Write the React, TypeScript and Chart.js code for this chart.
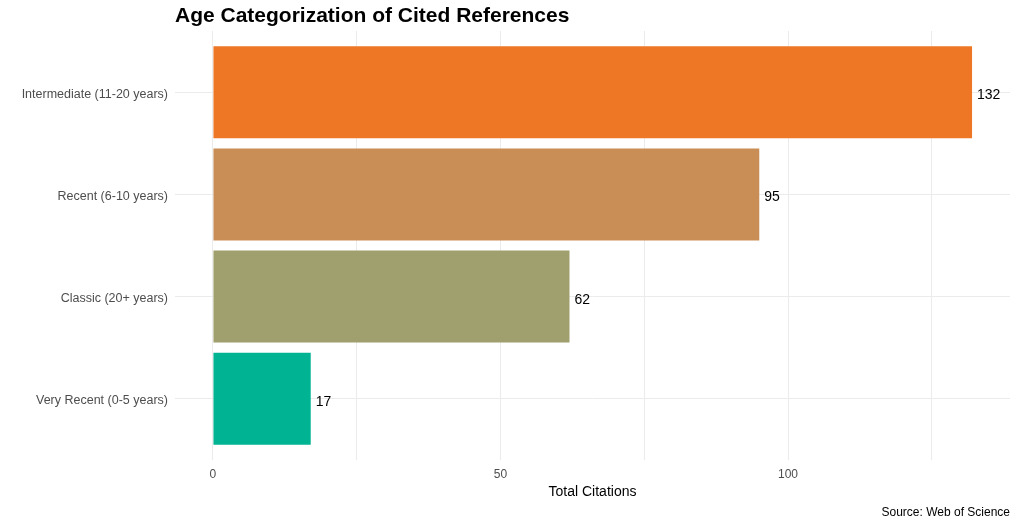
import { useEffect, useRef } from 'react';
import { Chart, registerables } from 'chart.js';

Chart.register(...registerables);

// categories, top to bottom
const CATEGORIES = [
  'Intermediate (11-20 years)',
  'Recent (6-10 years)',
  'Classic (20+ years)',
  'Very Recent (0-5 years)',
];
const CITATIONS = [132, 95, 62, 17];
const BAR_COLORS = ['#EE7726', '#C98E55', '#A0A06E', '#00B392'];
const X_TICKS = [0, 25, 50, 75, 100, 125];
const X_LABELED = [0, 50, 100];

const TITLE = 'Age Categorization of Cited References';
const X_TITLE = 'Total Citations';
const CAPTION = 'Source: Web of Science';

const FONT = 'Liberation Sans, Arial, sans-serif';
const GRID = '#EBEBEB';

const n = CATEGORIES.length;
// category i is drawn at y = n-1-i so the first one ends up on top
const points = CITATIONS.map((v, i) => ({ x: v, y: n - 1 - i }));

const textPlugin = {
  id: 'ggText',
  afterDatasetsDraw(chart: Chart) {
    const { ctx, chartArea } = chart;
    ctx.save();
    // value labels at bar ends
    const meta = chart.getDatasetMeta(0);
    ctx.fillStyle = '#000';
    ctx.font = `14px ${FONT}`;
    ctx.textAlign = 'left';
    ctx.textBaseline = 'alphabetic';
    meta.data.forEach((bar: any, i: number) => {
      ctx.fillText(String(CITATIONS[i]), bar.x + 5, bar.y + 7);
    });
    // title
    ctx.font = `bold 21px ${FONT}`;
    ctx.fillText(TITLE, chartArea.left, 22);
    // x axis title
    ctx.font = `14px ${FONT}`;
    ctx.textAlign = 'center';
    ctx.fillText(X_TITLE, (chartArea.left + chartArea.right) / 2, 496);
    // caption
    ctx.font = `12px ${FONT}`;
    ctx.textAlign = 'right';
    ctx.fillText(CAPTION, chartArea.right, 516);
    ctx.restore();
  },
};

function AgeChart() {
  const canvasRef = useRef<HTMLCanvasElement>(null);
  const chartRef = useRef<Chart | null>(null);

  useEffect(() => {
    if (!canvasRef.current) return;
    document.body.style.margin = '0';
    const existing = Chart.getChart(canvasRef.current);
    if (existing) existing.destroy();

    chartRef.current = new Chart(canvasRef.current, {
      type: 'bar',
      data: {
        datasets: [{
          data: points as any,
          backgroundColor: BAR_COLORS,
          borderWidth: 0,
          categoryPercentage: 0.9,
          barPercentage: 1,
        }],
      },
      options: {
        indexAxis: 'y',
        animation: false,
        responsive: false,
        layout: { padding: { top: 31, right: 7, left: 0, bottom: 0 } },
        plugins: {
          legend: { display: false },
          tooltip: { enabled: false },
          title: { display: false },
        },
        scales: {
          x: {
            type: 'linear',
            min: -6.6,
            max: 138.6,
            afterBuildTicks: (s: any) => { s.ticks = X_TICKS.map(v => ({ value: v })); },
            afterFit: (s: any) => { s.height = 63; },
            border: { display: false },
            grid: { color: GRID, lineWidth: 1, drawTicks: false },
            ticks: {
              padding: 7,
              color: '#4D4D4D',
              font: { family: FONT, size: 12 },
              callback: (v: any) => (X_LABELED.includes(Number(v)) ? String(v) : ''),
            },
          },
          y: {
            type: 'linear',
            min: -0.6,
            max: n - 1 + 0.6,
            offset: false,
            afterBuildTicks: (s: any) => { s.ticks = CATEGORIES.map((_, i) => ({ value: i })); },
            afterFit: (s: any) => { s.width = 175; },
            border: { display: false },
            grid: { color: GRID, lineWidth: 1, drawTicks: false, offset: false },
            ticks: {
              padding: 7,
              labelOffset: 2,
              color: '#4D4D4D',
              font: { family: FONT, size: 12.5 },
              callback: (v: any) => CATEGORIES[n - 1 - Number(v)] ?? '',
            },
          },
        },
      },
      plugins: [textPlugin],
    });

    return () => { chartRef.current?.destroy(); chartRef.current = null; };
  }, []);

  return <canvas ref={canvasRef} width={1017} height={523} style={{ display: 'block' }} />;
}

export default function App() {
  return <AgeChart />;
}
